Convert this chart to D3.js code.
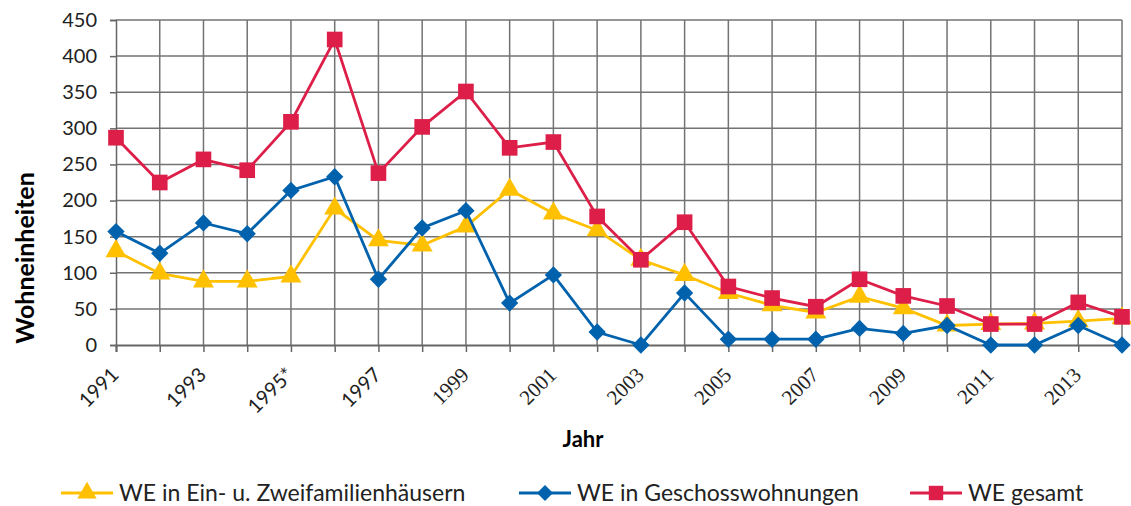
<!DOCTYPE html>
<html>
<head>
<meta charset="utf-8">
<script src="https://cdn.jsdelivr.net/npm/d3@7"></script>
<style>
  body { margin: 0; background: #fff; }
  svg { display: block; }
</style>
</head>
<body>
<div id="chart"></div>
<script>
// ── Daten ──────────────────────────────────────────────────────────────────
const jahre = d3.range(1991, 2015);
const jahrLabels = jahre.map(j => j === 1995 ? "1995*" : String(j));

const einZwei   = [130, 99, 88, 88, 95, 189, 145, 138, 164, 215, 182, 159, 118, 97, 72, 55, 45, 67, 51, 27, 29, 30, 33, 37];
const geschoss  = [157, 127, 169, 154, 214, 233, 91, 162, 186, 58, 97, 18, 0, 72, 8, 8, 8, 23, 16, 27, 0, 0, 27, 0];
const gesamt    = [287, 225, 257, 242, 309, 423, 238, 302, 351, 273, 281, 178, 118, 170, 81, 65, 53, 91, 68, 54, 29, 29, 59, 39];

const yTicks = d3.range(0, 451, 50);

// Raute = um 45° gedrehtes Quadrat
const serien = [
  { name: "WE in Ein- u. Zweifamilienhäusern", werte: einZwei,  color: "#ffc000", symbol: d3.symbolTriangle, size: 190, rot: 0 },
  { name: "WE in Geschosswohnungen",          werte: geschoss, color: "#0062ad", symbol: d3.symbolSquare,   size: 150, rot: 45 },
  { name: "WE gesamt",                        werte: gesamt,   color: "#dc1e48", symbol: d3.symbolSquare,   size: 245, rot: 0 }
];

// ── Layout ─────────────────────────────────────────────────────────────────
const width = 1131, height = 506;
const plotL = 116, plotR = 1122, plotT = 20, plotB = 345;
const sans = "Lato, 'Open Sans', sans-serif";

const x = d3.scalePoint().domain(jahre).range([plotL, plotR]);
const y = d3.scaleLinear().domain([0, 450]).range([plotB, plotT]);

const svg = d3.create("svg")
  .attr("width", width)
  .attr("height", height)
  .attr("viewBox", [0, 0, width, height])
  .style("font-family", sans);

// ── Gitter ─────────────────────────────────────────────────────────────────
const grid = svg.append("g").attr("stroke", "#737373").attr("stroke-width", 1.5);
grid.selectAll("line.h")
  .data(yTicks.slice(1))
  .join("line")
  .attr("class", "h")
  .attr("x1", plotL).attr("x2", plotR)
  .attr("y1", d => y(d)).attr("y2", d => y(d));
grid.selectAll("line.v")
  .data(jahre.slice(1))
  .join("line")
  .attr("class", "v")
  .attr("x1", d => x(d)).attr("x2", d => x(d))
  .attr("y1", plotT).attr("y2", plotB);

// ── Achsen ─────────────────────────────────────────────────────────────────
const yAxis = svg.append("g")
  .attr("transform", `translate(${plotL},0)`)
  .call(d3.axisLeft(y).tickValues(yTicks).tickSize(6).tickPadding(13));
yAxis.select(".domain").attr("stroke", "#666").attr("stroke-width", 1.5);
yAxis.selectAll(".tick line").attr("stroke", "#666").attr("stroke-width", 1.5);
yAxis.selectAll("text")
  .style("font-size", "20px")
  .style("font-family", sans)
  .attr("fill", "#222");

const xAxis = svg.append("g")
  .attr("transform", `translate(0,${plotB})`)
  .call(d3.axisBottom(x).tickSize(7).tickFormat(() => ""));
xAxis.select(".domain").attr("stroke", "#666").attr("stroke-width", 2);
xAxis.selectAll(".tick line").attr("stroke", "#666").attr("stroke-width", 1.5);

// Beschriftung jedes zweiten Jahres, schräg
svg.append("g")
  .selectAll("text")
  .data(jahre.filter((j, i) => i % 2 === 0))
  .join("text")
  .attr("text-anchor", "end")
  .attr("transform", d => `translate(${x(d) - 1},${plotB + 26}) rotate(-45)`)
  .attr("dy", "0.35em")
  .style("font-size", d => d >= 1999 ? "21px" : "20px")
  .style("font-family", d => d >= 1999 ? "'Liberation Serif', serif" : sans)
  .attr("fill", "#222")
  .text(d => jahrLabels[jahre.indexOf(d)]);

// Achsentitel
svg.append("text")
  .attr("x", 583).attr("y", 447)
  .attr("text-anchor", "middle")
  .style("font-size", "22px").style("font-weight", "bold")
  .text("Jahr");

svg.append("text")
  .attr("transform", "translate(34,258) rotate(-90)")
  .attr("text-anchor", "middle")
  .style("font-size", "25px").style("font-weight", "bold")
  .text("Wohneinheiten");

// ── Linien & Marker ────────────────────────────────────────────────────────
const line = d3.line().x((d, i) => x(jahre[i])).y(d => y(d));

serien.forEach(s => {
  const g = svg.append("g");
  g.append("path")
    .attr("d", line(s.werte))
    .attr("fill", "none")
    .attr("stroke", s.color)
    .attr("stroke-width", 2.8);
  g.selectAll("path.m")
    .data(s.werte)
    .join("path")
    .attr("class", "m")
    .attr("transform", (d, i) => `translate(${x(jahre[i])},${y(d)}) rotate(${s.rot})`)
    .attr("d", d3.symbol(s.symbol, s.size))
    .attr("fill", s.color);
});

// ── Legende ────────────────────────────────────────────────────────────────
const legendPos = [61, 519, 910];
const legend = svg.append("g")
  .selectAll("g")
  .data(serien)
  .join("g")
  .attr("transform", (d, i) => `translate(${legendPos[i]},493)`);
legend.append("line")
  .attr("x1", 0).attr("x2", 52)
  .attr("stroke", d => d.color).attr("stroke-width", 2.8);
legend.append("path")
  .attr("transform", d => `translate(26,0) rotate(${d.rot})`)
  .attr("d", d => d3.symbol(d.symbol, d.size * 0.85)())
  .attr("fill", d => d.color);
legend.append("text")
  .attr("x", 58).attr("dy", "0.35em")
  .style("font-size", "23px")
  .attr("fill", "#222")
  .text(d => d.name);

document.getElementById("chart").append(svg.node());
</script>
</body>
</html>
